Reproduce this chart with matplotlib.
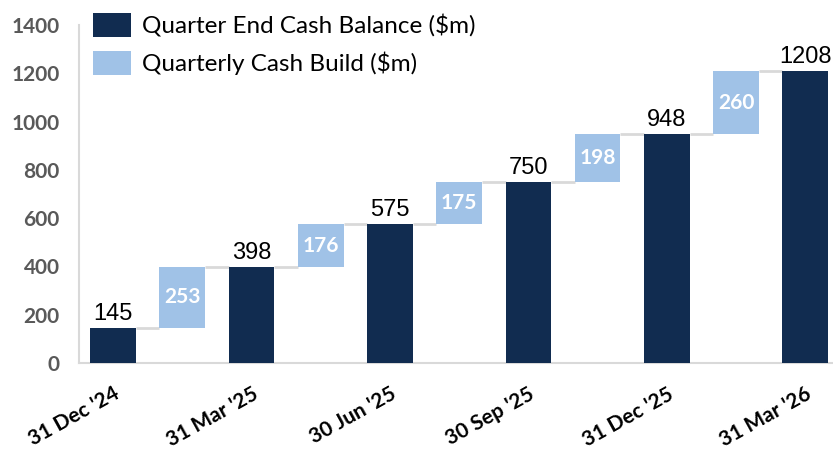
import matplotlib
matplotlib.use("Agg")
import matplotlib.pyplot as plt
from matplotlib.patches import Patch

quarters = ["31 Dec '24", "31 Mar '25", "30 Jun '25", "30 Sep '25", "31 Dec '25", "31 Mar '26"]
balances = [145, 398, 575, 750, 948, 1208]
builds = [253, 176, 175, 198, 260]
yticks = [0, 200, 400, 600, 800, 1000, 1200, 1400]

NAVY = "#112C50"
LIGHT = "#A0C2E7"
GRID = "#D9D9D9"

fig = plt.figure(figsize=(8.33, 4.54), dpi=100)
W, H = 833, 454
left, right, top, bottom = 79, 833, 25, 363
ax = fig.add_axes([left / W, 1 - bottom / H, (right - left) / W, (bottom - top) / H])

bw = 0.66
bal_x = [2 * i for i in range(len(balances))]
bld_x = [2 * i + 1 for i in range(len(builds))]

ax.bar(bal_x, balances, width=bw, color=NAVY, zorder=3, label="Quarter End Cash Balance ($m)")
ax.bar(bld_x, builds, bottom=balances[:-1], width=bw, color=LIGHT, zorder=3, label="Quarterly Cash Build ($m)")

# connectors
for i in range(len(builds)):
    x0 = bal_x[i] + bw / 2
    x1 = bld_x[i] - bw / 2
    ax.plot([x0, x1], [balances[i], balances[i]], color=GRID, lw=2, zorder=2, solid_capstyle="butt")
    top_b = balances[i] + builds[i]
    x2 = bld_x[i] + bw / 2
    x3 = bal_x[i + 1] - bw / 2
    ax.plot([x2, x3], [top_b, top_b], color=GRID, lw=2, zorder=2, solid_capstyle="butt")

for x, v in zip(bal_x, balances):
    ax.text(x, v + 14, f"{v}", ha="center", va="bottom", fontsize=17,
            family="Liberation Sans", color="black")
for x, b, v in zip(bld_x, balances[:-1], builds):
    ax.text(x, b + v / 2, f"{v}", ha="center", va="center", fontsize=15,
            family="Lato", fontweight="bold", color="white", zorder=4)

ax.set_ylim(0, 1400)
ax.set_xlim(-0.491, 10.40)
ax.set_yticks(yticks)
ax.set_yticklabels([str(t) for t in yticks], family="Lato", fontweight="bold",
                   fontsize=15, color="#595959")
ax.set_xticks(bal_x)
ax.set_xticklabels(quarters, rotation=29, ha="right", rotation_mode="anchor",
                   family="Lato", fontweight="bold", fontsize=15, color="black")
ax.tick_params(axis="both", length=0)
ax.tick_params(axis="y", pad=14)
ax.tick_params(axis="x", pad=15)
for s in ["top", "right"]:
    ax.spines[s].set_visible(False)
for s in ["left", "bottom"]:
    ax.spines[s].set_color(GRID)
    ax.spines[s].set_linewidth(1.5)

handles = [Patch(facecolor=NAVY), Patch(facecolor=LIGHT)]
leg = fig.legend(handles, ["Quarter End Cash Balance ($m)", "Quarterly Cash Build ($m)"],
                 loc="upper left", bbox_to_anchor=(83 / W, 1 - 3 / H), frameon=False,
                 prop={"family": "Lato", "size": 17.5}, handlelength=1.56, handleheight=1.15,
                 handletextpad=0.45, labelspacing=0.58, borderaxespad=0)

fig.savefig("out.png", dpi=100)
